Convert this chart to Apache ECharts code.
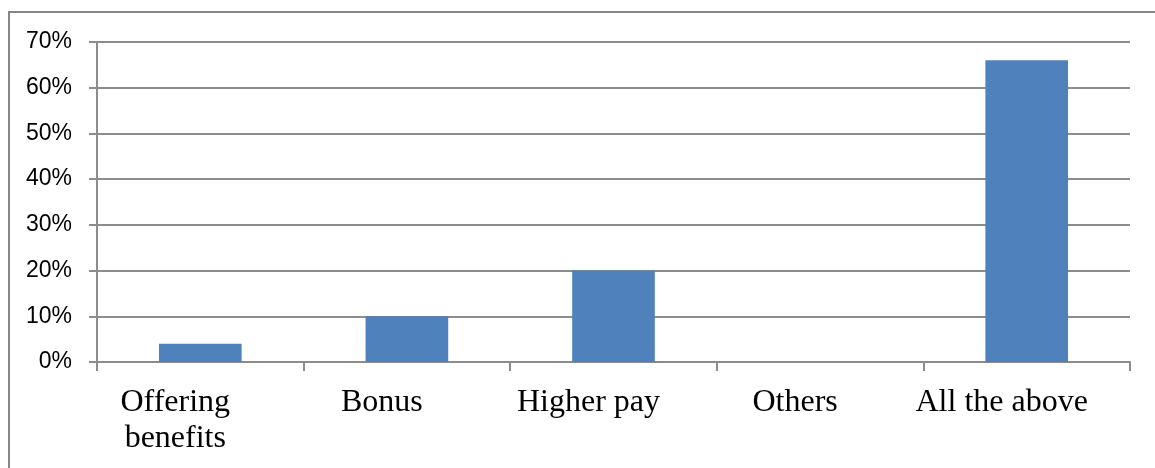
<!DOCTYPE html>
<html>
<head>
<meta charset="utf-8">
<script src="https://cdn.jsdelivr.net/npm/echarts@6/dist/echarts.min.js"></script>
<style>
  html, body { margin: 0; padding: 0; background: #fff; overflow: hidden; }
  #chart { position: absolute; left: 0; top: 0; width: 1155px; height: 468px; }
  #frame {
    position: absolute; left: 8px; top: 11px; width: 1300px; height: 600px;
    border-left: 2px solid #878787; border-top: 2px solid #878787;
    pointer-events: none;
  }
</style>
</head>
<body>
<div id="chart"></div>
<div id="frame"></div>
<script>
// categories and shares (percent)
const categories = ["Offering\nbenefits", "Bonus", "Higher pay", "Others", "All the above"];
const shares = [4, 10, 20, 0, 66];
const yTicks = [0, 10, 20, 30, 40, 50, 60, 70];

const chart = echarts.init(document.getElementById("chart"));
const lineColor = "#8c8c8c";

chart.setOption({
  animation: false,
  grid: { left: 97, right: 25, top: 42, bottom: 106 },
  xAxis: {
    type: "category",
    data: categories,
    axisLine: { lineStyle: { color: lineColor, width: 2 } },
    axisTick: { show: true, length: 9, lineStyle: { color: lineColor, width: 2 } },
    axisLabel: {
      color: "#000",
      fontFamily: "Liberation Serif",
      fontSize: 32,
      lineHeight: 36,
      margin: 23,
      interval: 0,
      padding: [0, 50, 0, 0]
    }
  },
  yAxis: {
    type: "value",
    min: yTicks[0],
    max: yTicks[yTicks.length - 1],
    interval: 10,
    axisLine: { show: true, lineStyle: { color: lineColor, width: 2 } },
    axisTick: { show: true, length: 8, lineStyle: { color: lineColor, width: 2 } },
    splitLine: { lineStyle: { color: lineColor, width: 2 } },
    axisLabel: {
      color: "#000",
      fontFamily: "Liberation Sans",
      fontSize: 23,
      margin: 25,
      formatter: v => v + "%"
    }
  },
  series: [{
    type: "bar",
    data: shares,
    barWidth: "40%",
    itemStyle: { color: "#4F81BD" }
  }]
});
</script>
</body>
</html>
